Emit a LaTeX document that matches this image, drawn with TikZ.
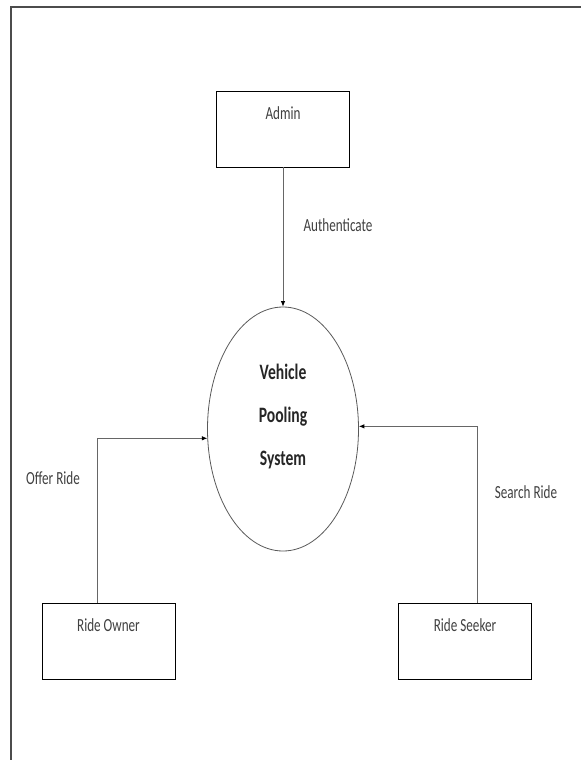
\documentclass[tikz,border=0pt]{standalone}
\usepackage{fontspec}
\usepackage{tikz}
\usetikzlibrary{shapes.geometric,arrows.meta}

\newfontfamily\dfdfont{Carlito}[FakeStretch=0.71]

\begin{document}
\begin{tikzpicture}[x=1pt,y=-1pt,
        entity/.style={draw=black,line width=0.9pt,minimum width=133pt,inner sep=0pt,
            text height=28pt,text depth=48pt,text=black!75,
            font=\dfdfont\fontsize{18.5}{22}\selectfont},
        process/.style={ellipse,draw=black!65,line width=0.8pt,minimum width=151pt,
            minimum height=244pt,inner sep=0pt,align=center,text depth=29pt,text=black!85,
            font=\dfdfont\bfseries\fontsize{22}{43}\selectfont},
        flow/.style={draw=black!60,line width=0.8pt,-{Latex[length=5.5pt,width=4.5pt,color=black]}},
        flowlabel/.style={inner sep=0pt,text=black!75,font=\dfdfont\fontsize{18.5}{22}\selectfont},
        frame/.style={draw=black!70,line width=1.5pt}
    ]
    \useasboundingbox (0,0) rectangle (581,760);
    \draw[frame] (11,760) -- (11,7) -- (581,7);

    % external entities
    \node[entity] (adm) at (283,129) {Admin};
    \node[entity] (own) at (108.5,641) {Ride Owner};
    \node[entity] (seek) at (465,641) {Ride Seeker};

    % the system
    \node[process] (sys) at (283,429) {Vehicle\\Pooling\\System};

    % data flows
    \draw[flow] (adm) -- (sys);
    \draw[flow] ([xshift=-11.5pt]own.north) |- (sys.187);
    \draw[flow] ([xshift=12pt]seek.north) |- (sys.2);

    \node[flowlabel] (authlbl) at (338,225) {Authenticate};
    \node[flowlabel] (offerlbl) at (53,478) {Offer Ride};
    \node[flowlabel] (searchlbl) at (526,492) {Search Ride};
\end{tikzpicture}
\end{document}
